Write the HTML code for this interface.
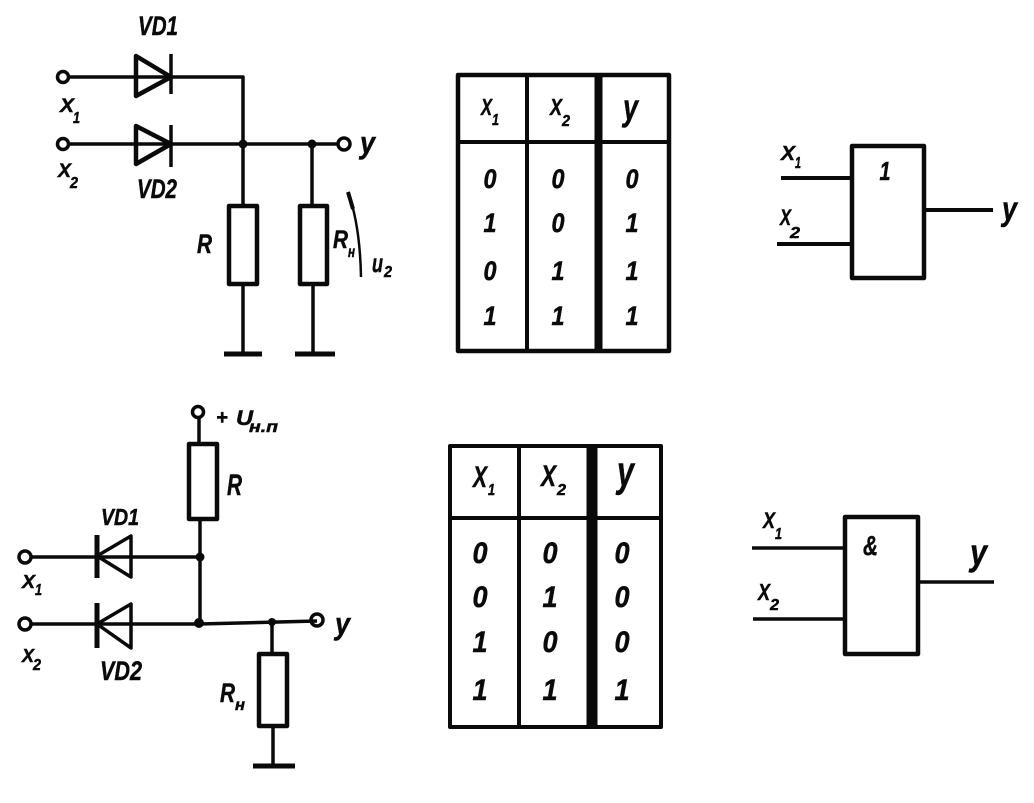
<!DOCTYPE html>
<html>
<head>
<meta charset="utf-8">
<style>
html,body{margin:0;padding:0;background:#fff;width:1034px;height:803px;overflow:hidden}
svg{display:block}
text{font-family:"Liberation Sans",sans-serif;font-weight:bold;font-style:italic;fill:#0a0a0a;stroke:#0a0a0a;stroke-width:.5px}
.s{font-size:16px}
.d{text-anchor:middle;font-size:27px}
.e{text-anchor:middle;font-size:30px}
</style>
</head>
<body>
<svg width="1034" height="803" viewBox="0 0 1034 803" xmlns="http://www.w3.org/2000/svg">
<g fill="none" stroke="#0a0a0a" stroke-width="3.5" stroke-linejoin="round">
<!-- Top circuit -->
<path d="M68 77H243V144M68 144H338M243 144V205M243 284V354M312 144V205M313 284V354"/>
<path d="M224 354H262M295 354H335" stroke-width="5"/>
<circle cx="63" cy="77" r="5.5"/><circle cx="63" cy="144" r="5.5"/><circle cx="344" cy="144" r="6"/>
<path d="M136 56L171 77L136 96Z M136 126L171 144L136 164Z" stroke-width="4.5"/>
<path d="M171 54V94M171 125V167" stroke-width="3.5"/>
<rect x="229" y="206" width="28" height="78" stroke-width="4.5"/>
<rect x="300" y="206" width="27" height="78" stroke-width="4.5"/>
<path d="M348 192Q360 225 361 277" stroke-width="2.5"/>
<path d="M348 192L353 209" stroke-width="4"/>
<!-- Bottom circuit -->
<path d="M199 418V443M200 519V624M31 557H199M31 624H199L317 621M272 622V653M273 726V766"/>
<path d="M253 766H295" stroke-width="5"/>
<circle cx="198" cy="412" r="5.5"/><circle cx="25" cy="557" r="6"/><circle cx="25" cy="624" r="6"/><circle cx="317" cy="620" r="6"/>
<path d="M97 556L131 536V577Z M97 624L131 604V648Z" stroke-width="3.5"/>
<path d="M97 535V578M97 603V648" stroke-width="5"/>
<rect x="189" y="444" width="28" height="75" stroke-width="4.5"/>
<rect x="259" y="654" width="28" height="72" stroke-width="4.5"/>
<!-- Table 1 -->
<rect x="458" y="75" width="211" height="276" stroke-width="4.5"/>
<path d="M458 142H669M527 75V351" stroke-width="4"/>
<path d="M598.5 75V351" stroke-width="8"/>
<!-- Table 2 -->
<rect x="450" y="446" width="211" height="281" stroke-width="4"/>
<path d="M450 518H661M519 446V727" stroke-width="4"/>
<path d="M592 446V727" stroke-width="11"/>
<!-- Gate 1 -->
<rect x="852" y="146" width="72" height="132" stroke-width="4.5"/>
<path d="M781 178H852M777 244H852M924 210H993" stroke-width="4"/>
<!-- Gate 2 -->
<rect x="845" y="517" width="73" height="137" stroke-width="4.5"/>
<path d="M752 548H845M753 619H845M918 582H994" stroke-width="3.5"/>
</g>
<g fill="#0a0a0a">
<circle cx="243" cy="144" r="4.5"/><circle cx="312" cy="144" r="4.5"/>
<circle cx="200" cy="557" r="4.5"/><circle cx="199" cy="623" r="5"/><circle cx="272" cy="622" r="4"/>
</g>
<!-- Top labels -->
<text x="138" y="35" font-size="27" textLength="40" lengthAdjust="spacingAndGlyphs">VD1</text>
<text x="137" y="198" font-size="27" textLength="40" lengthAdjust="spacingAndGlyphs">VD2</text>
<text x="60" y="112" font-size="19" textLength="14" lengthAdjust="spacingAndGlyphs">X</text><text class="s" x="73" y="123" textLength="7" lengthAdjust="spacingAndGlyphs">1</text>
<text x="58" y="177" font-size="19" textLength="13" lengthAdjust="spacingAndGlyphs">X</text><text class="s" x="70" y="188" textLength="8" lengthAdjust="spacingAndGlyphs">2</text>
<text x="360" y="153" font-size="31" textLength="15" lengthAdjust="spacingAndGlyphs">y</text>
<text x="197" y="253" font-size="27" textLength="15" lengthAdjust="spacingAndGlyphs">R</text>
<text x="333" y="248" font-size="25" textLength="15" lengthAdjust="spacingAndGlyphs">R</text><text class="s" x="348" y="257" textLength="7" lengthAdjust="spacingAndGlyphs">н</text>
<text x="372" y="272" font-size="26" textLength="11" lengthAdjust="spacingAndGlyphs">u</text><text class="s" x="384" y="277" textLength="8" lengthAdjust="spacingAndGlyphs">2</text>
<!-- Bottom labels -->
<text x="216" y="424" font-size="20">+</text>
<text x="236" y="425" font-size="21" textLength="17" lengthAdjust="spacingAndGlyphs">U</text><text class="s" x="249" y="432" textLength="29" lengthAdjust="spacingAndGlyphs">н.п</text>
<text x="227" y="495" font-size="30" textLength="15" lengthAdjust="spacingAndGlyphs">R</text>
<text x="101" y="525" font-size="23" textLength="38" lengthAdjust="spacingAndGlyphs">VD1</text>
<text x="100" y="680" font-size="27" textLength="42" lengthAdjust="spacingAndGlyphs">VD2</text>
<text x="22" y="588" font-size="18" textLength="13" lengthAdjust="spacingAndGlyphs">X</text><text class="s" x="35" y="595" textLength="7" lengthAdjust="spacingAndGlyphs">1</text>
<text x="22" y="662" font-size="18" textLength="12" lengthAdjust="spacingAndGlyphs">X</text><text class="s" x="33" y="670" textLength="8" lengthAdjust="spacingAndGlyphs">2</text>
<text x="335" y="634" font-size="31" textLength="15" lengthAdjust="spacingAndGlyphs">y</text>
<text x="220" y="702" font-size="27" textLength="15" lengthAdjust="spacingAndGlyphs">R</text><text class="s" x="235" y="710" textLength="10" lengthAdjust="spacingAndGlyphs">н</text>
<!-- Table 1 text -->
<text x="481" y="115" font-size="23" textLength="11" lengthAdjust="spacingAndGlyphs">X</text><text class="s" x="492" y="125" textLength="7" lengthAdjust="spacingAndGlyphs">1</text>
<text x="550" y="115" font-size="23" textLength="12" lengthAdjust="spacingAndGlyphs">X</text><text class="s" x="562" y="126" textLength="8" lengthAdjust="spacingAndGlyphs">2</text>
<text x="623" y="120" font-size="37" textLength="15" lengthAdjust="spacingAndGlyphs">y</text>
<text class="d" x="490" y="188" textLength="13" lengthAdjust="spacingAndGlyphs">0</text><text class="d" x="558" y="188" textLength="13" lengthAdjust="spacingAndGlyphs">0</text><text class="d" x="632" y="188" textLength="13" lengthAdjust="spacingAndGlyphs">0</text>
<text class="d" x="490" y="232" textLength="13" lengthAdjust="spacingAndGlyphs">1</text><text class="d" x="558" y="232" textLength="13" lengthAdjust="spacingAndGlyphs">0</text><text class="d" x="632" y="232" textLength="13" lengthAdjust="spacingAndGlyphs">1</text>
<text class="d" x="490" y="280" textLength="13" lengthAdjust="spacingAndGlyphs">0</text><text class="d" x="558" y="280" textLength="13" lengthAdjust="spacingAndGlyphs">1</text><text class="d" x="632" y="280" textLength="13" lengthAdjust="spacingAndGlyphs">1</text>
<text class="d" x="490" y="325" textLength="13" lengthAdjust="spacingAndGlyphs">1</text><text class="d" x="558" y="325" textLength="13" lengthAdjust="spacingAndGlyphs">1</text><text class="d" x="632" y="325" textLength="13" lengthAdjust="spacingAndGlyphs">1</text>
<!-- Table 2 text -->
<text x="473" y="487" font-size="30" textLength="14" lengthAdjust="spacingAndGlyphs">X</text><text class="s" x="488" y="495" textLength="7" lengthAdjust="spacingAndGlyphs">1</text>
<text x="541" y="486" font-size="30" textLength="15" lengthAdjust="spacingAndGlyphs">X</text><text class="s" x="557" y="495" textLength="9" lengthAdjust="spacingAndGlyphs">2</text>
<text x="617" y="486" font-size="43" textLength="17" lengthAdjust="spacingAndGlyphs">y</text>
<text class="e" x="480" y="563" textLength="15" lengthAdjust="spacingAndGlyphs">0</text><text class="e" x="550" y="563" textLength="15" lengthAdjust="spacingAndGlyphs">0</text><text class="e" x="622" y="563" textLength="15" lengthAdjust="spacingAndGlyphs">0</text>
<text class="e" x="480" y="607" textLength="15" lengthAdjust="spacingAndGlyphs">0</text><text class="e" x="550" y="607" textLength="15" lengthAdjust="spacingAndGlyphs">1</text><text class="e" x="622" y="607" textLength="15" lengthAdjust="spacingAndGlyphs">0</text>
<text class="e" x="480" y="652" textLength="15" lengthAdjust="spacingAndGlyphs">1</text><text class="e" x="550" y="652" textLength="15" lengthAdjust="spacingAndGlyphs">0</text><text class="e" x="622" y="652" textLength="15" lengthAdjust="spacingAndGlyphs">0</text>
<text class="e" x="480" y="700" textLength="15" lengthAdjust="spacingAndGlyphs">1</text><text class="e" x="550" y="700" textLength="15" lengthAdjust="spacingAndGlyphs">1</text><text class="e" x="622" y="700" textLength="15" lengthAdjust="spacingAndGlyphs">1</text>
<!-- Gate labels -->
<text x="781" y="160" font-size="20" textLength="14" lengthAdjust="spacingAndGlyphs">X</text><text class="s" x="795" y="168" textLength="6" lengthAdjust="spacingAndGlyphs">1</text>
<text x="780" y="225" font-size="22" textLength="11" lengthAdjust="spacingAndGlyphs">X</text><text class="s" x="790" y="238" textLength="10" lengthAdjust="spacingAndGlyphs">2</text>
<text class="d" x="885" y="180" font-size="26" style="font-size:26px" textLength="11" lengthAdjust="spacingAndGlyphs">1</text>
<text x="1002" y="220" font-size="33" textLength="15" lengthAdjust="spacingAndGlyphs">y</text>
<text x="763" y="528" font-size="22" textLength="12" lengthAdjust="spacingAndGlyphs">X</text><text class="s" x="775" y="539" textLength="7" lengthAdjust="spacingAndGlyphs">1</text>
<text x="758" y="600" font-size="23" textLength="12" lengthAdjust="spacingAndGlyphs">X</text><text class="s" x="770" y="610" textLength="9" lengthAdjust="spacingAndGlyphs">2</text>
<text x="863" y="555" font-size="28" textLength="15" lengthAdjust="spacingAndGlyphs">&amp;</text>
<text x="970" y="565" font-size="37" textLength="17" lengthAdjust="spacingAndGlyphs">y</text>
</svg>
</body>
</html>
